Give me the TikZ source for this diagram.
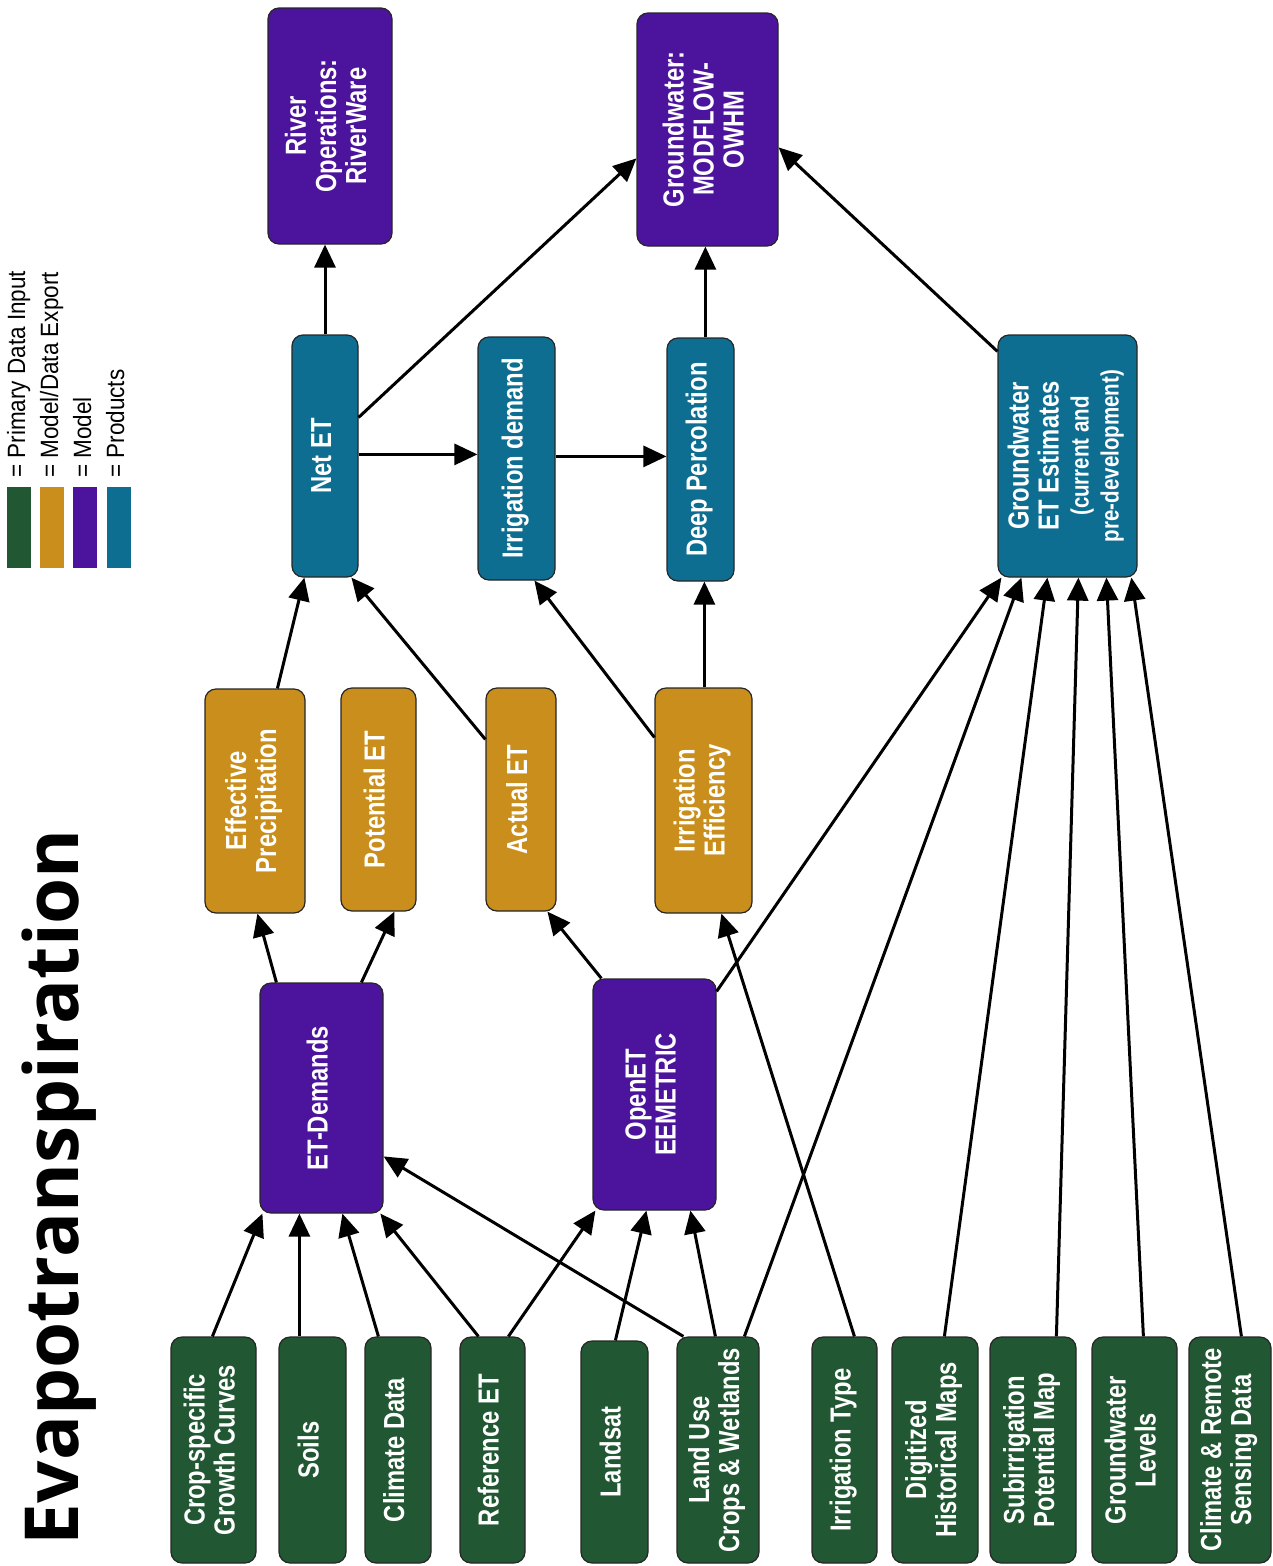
\documentclass[tikz,border=0pt]{standalone}
\usepackage{fontspec}
\setmainfont{Liberation Sans}
\newfontfamily\narrowsans{Liberation Sans}[FakeStretch=0.82]
\newfontfamily\legendsans{Liberation Sans}[FakeStretch=0.9]
\newfontfamily\titlesans{Open Sans}
\usetikzlibrary{arrows.meta,calc}

\definecolor{inputgreen}{RGB}{33,87,50}
\definecolor{exportgold}{RGB}{201,142,28}
\definecolor{modelpurple}{RGB}{76,20,156}
\definecolor{productteal}{RGB}{14,110,145}

% vertical (rotated) multi-line label
\newcommand{\vtext}[1]{\rotatebox{90}{\begin{tabular}{@{}c@{}}#1\end{tabular}}}

\tikzset{
  box/.style={draw=black!85, line width=1.2pt, rounded corners=11pt, inner sep=0pt,
    text=white, font=\narrowsans\bfseries\fontsize{29}{30}\selectfont},
  inbox/.style={box, fill=inputgreen},
  expbox/.style={box, fill=exportgold},
  modbox/.style={box, fill=modelpurple},
  prodbox/.style={box, fill=productteal},
  sz/.style 2 args={minimum width=#1pt, minimum height=#2pt},
  arr/.style={line width=3pt, black, -{Triangle[length=23pt,width=21pt]}},
  swatch/.style={minimum width=24pt, minimum height=81pt, inner sep=0pt},
  legtext/.style={rotate=90, anchor=base west, inner sep=0pt,
    font=\legendsans\fontsize{25}{25}\selectfont},
}

\begin{document}
\begin{tikzpicture}[x=1pt, y=-1pt]
\useasboundingbox (0,0) rectangle (1272,1566);

% ---------- title ----------
\node[rotate=90, anchor=base, inner sep=0pt] (title) at (78,1187)
  {\resizebox{716pt}{!}{\titlesans\bfseries\fontsize{60}{60}\selectfont Evapotranspiration}};

% ---------- legend ----------
\node[swatch, fill=inputgreen]  (lg1) at (19,527.5) {};
\node[swatch, fill=exportgold]  (lg2) at (51.5,527.5) {};
\node[swatch, fill=modelpurple] (lg3) at (84.5,527.5) {};
\node[swatch, fill=productteal] (lg4) at (118.5,527.5) {};
\node[legtext] (lt1) at (25,478)  {= Primary Data Input};
\node[legtext] (lt2) at (58,478)  {= Model/Data Export};
\node[legtext] (lt3) at (91,478)  {= Model};
\node[legtext] (lt4) at (124,478) {= Products};

% ---------- top models ----------
\node[modbox, sz={124}{236}] (river) at (330,126) {\vtext{River\\Operations:\\RiverWare}};
\node[modbox, sz={141}{233}] (gwm) at (707.5,129.5) {\vtext{Groundwater:\\MODFLOW-\\OWHM}};

% ---------- products ----------
\node[prodbox, sz={66}{242}] (net) at (325,456) {\vtext{Net ET}};
\node[prodbox, sz={77}{243}] (idem) at (516.5,458.5) {\vtext{Irrigation demand}};
\node[prodbox, sz={67}{243}] (deep) at (700.5,459.5) {\vtext{Deep Percolation}};
\node[prodbox, sz={139}{242}] (gwet) at (1067.5,456)
  {\vtext{Groundwater\\ET Estimates\\{\fontsize{25}{28}\selectfont (current and}\\{\fontsize{25}{28}\selectfont pre-development)}}};

% ---------- model / data export ----------
\node[expbox, sz={100}{224}] (effp) at (255,801) {\vtext{Effective\\Precipitation}};
\node[expbox, sz={75}{223}] (pot) at (378.5,799.5) {\vtext{Potential ET}};
\node[expbox, sz={70}{223}] (act) at (521,799.5) {\vtext{Actual ET}};
\node[expbox, sz={97}{225}] (ieff) at (703.5,800.5) {\vtext{Irrigation\\Efficiency}};

% ---------- models ----------
\node[modbox, sz={123}{230}] (etd) at (321.5,1098) {\vtext{ET-Demands}};
\node[modbox, sz={123}{231}] (oet) at (654.5,1094.5) {\vtext{OpenET\\EEMETRIC}};

% ---------- primary data inputs ----------
\node[inbox, sz={85}{226}] (crop) at (213.5,1450) {\vtext{Crop-specific\\Growth Curves}};
\node[inbox, sz={67}{226}] (soils) at (312.5,1450) {\vtext{Soils}};
\node[inbox, sz={66}{226}] (clim) at (398,1450) {\vtext{Climate Data}};
\node[inbox, sz={65}{226}] (ref) at (492.5,1450) {\vtext{Reference ET}};
\node[inbox, sz={67}{222}] (land) at (614.5,1452) {\vtext{Landsat}};
\node[inbox, sz={82}{226}] (luse) at (718,1450) {\vtext{Land Use\\Crops \& Wetlands}};
\node[inbox, sz={65}{226}] (itype) at (844.5,1450) {\vtext{Irrigation Type}};
\node[inbox, sz={86}{226}] (digi) at (935,1450) {\vtext{Digitized\\Historical Maps}};
\node[inbox, sz={86}{226}] (subi) at (1033,1450) {\vtext{Subirrigation\\Potential Map}};
\node[inbox, sz={85}{226}] (gwl) at (1134.5,1450) {\vtext{Groundwater\\Levels}};
\node[inbox, sz={82}{226}] (crs) at (1230,1450) {\vtext{Climate \& Remote\\Sensing Data}};

% ---------- connectors: products to models ----------
\draw[arr] (net.north) -- (net.north |- river.south);
\draw[arr] ([yshift=-83pt]net.north east) -- ([yshift=-146pt]gwm.north west);
\draw[arr] ([yshift=-120pt]net.north east) -- ([yshift=-118pt]idem.north west);
\draw[arr] ([yshift=-120pt]idem.north east) -- ([yshift=-119pt]deep.north west);
\draw[arr] ([xshift=39pt]deep.north west) -- ([xshift=69pt]gwm.south west);
\draw[arr] ([yshift=-17pt]gwet.north west) -- ([yshift=-135pt]gwm.north east);

% ---------- connectors: exports to products ----------
\draw[arr] ([xshift=73pt]effp.north west) -- ([xshift=13pt]net.south west);
\draw[arr] ([yshift=-52pt]act.north west) -- ([xshift=60pt]net.south west);
\draw[arr] ([yshift=-50pt]ieff.north west) -- ([xshift=57pt]idem.south west);
\draw[arr] ([xshift=50pt]ieff.north west) -- ([xshift=38pt]deep.south west);

% ---------- connectors: models to exports ----------
\draw[arr] ([xshift=17pt]etd.north west) -- ([xshift=53pt]effp.south west);
\draw[arr] ([xshift=102pt]etd.north west) -- ([xshift=54pt]pot.south west);
\draw[arr] ([xshift=9pt]oet.north west) -- ([xshift=62pt]act.south west);
\draw[arr] ([yshift=-13pt]oet.north east) -- ([xshift=4pt]gwet.south west);

% ---------- connectors: inputs ----------
\draw[arr] ([xshift=43pt]itype.north west) -- ([xshift=67pt]ieff.south west);
\draw[arr] ([xshift=68pt]luse.north west) -- ([xshift=24pt]gwet.south west);
\draw[arr] ([xshift=53pt]digi.north west) -- ([xshift=50pt]gwet.south west);
\draw[arr] ([xshift=67pt]subi.north west) -- ([xshift=81pt]gwet.south west);
\draw[arr] ([xshift=52pt]gwl.north west) -- ([xshift=109pt]gwet.south west);
\draw[arr] ([xshift=53pt]crs.north west) -- ([xshift=134pt]gwet.south west);

\draw[arr] ([xshift=42pt]crop.north west) -- ([xshift=3pt]etd.south west);
\draw[arr] ([xshift=21pt]soils.north west) -- ([xshift=40pt]etd.south west);
\draw[arr] ([xshift=14pt]clim.north west) -- ([xshift=83pt]etd.south west);
\draw[arr] ([xshift=19pt]ref.north west) -- ([xshift=121pt]etd.south west);
\draw[arr] ([xshift=49pt]ref.north west) -- ([xshift=3pt]oet.south west);
\draw[arr] ([xshift=7pt]luse.north west) -- ([yshift=-174pt]etd.north east);
\draw[arr] ([xshift=35pt]land.north west) -- ([xshift=54pt]oet.south west);
\draw[arr] ([xshift=39pt]luse.north west) -- ([xshift=98pt]oet.south west);
\end{tikzpicture}
\end{document}
